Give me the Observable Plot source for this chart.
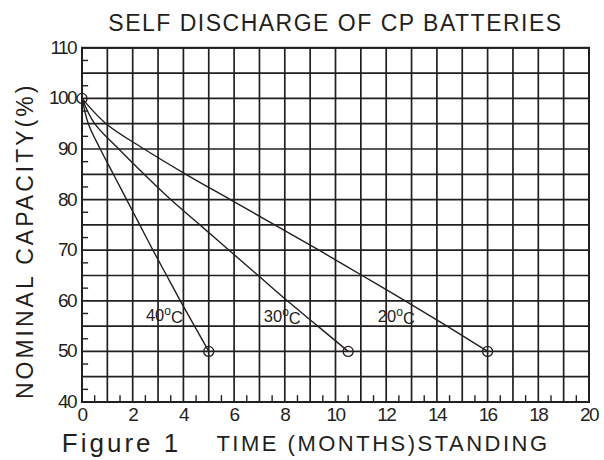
<!DOCTYPE html>
<html><head><meta charset="utf-8">
<script src="https://cdn.jsdelivr.net/npm/d3@7"></script>
<script src="https://cdn.jsdelivr.net/npm/@observablehq/plot@0.6"></script>
<style>
body{margin:0;background:#fff;}
svg{display:block;}
</style>
</head><body>
<div id="chart"></div>
<script>
// Data
const capacity = [100, 95, 90, 85, 80, 75, 70, 65, 60, 55, 50];
const months40 = [0, 0.25, 0.72, 1.24, 1.76, 2.28, 2.8, 3.34, 3.88, 4.44, 5.0];
const months30 = [0, 0.5, 1.45, 2.45, 3.5, 4.65, 5.8, 6.95, 8.1, 9.3, 10.5];
const months20 = [0, 0.95, 2.45, 4.1, 5.85, 7.6, 9.35, 11.05, 12.75, 14.4, 16.0];
const seriesNames = ["40°C", "30°C", "20°C"];
const labelMonths = [3.25, 7.9, 12.4];
const labelCapacity = [57.1, 56.9, 56.9];
const xTicks = [0, 2, 4, 6, 8, 10, 12, 14, 16, 18, 20];
const yTicks = [40, 50, 60, 70, 80, 90, 100, 110];
const title = "SELF DISCHARGE OF CP BATTERIES";
const xTitle = "TIME (MONTHS)STANDING";
const yTitle = "NOMINAL CAPACITY(%)";
const figLabel = "Figure 1";

const seriesMonths = [months40, months30, months20];
const rows = seriesNames.flatMap((s, i) => capacity.map((c, j) => ({series: s, month: seriesMonths[i][j], cap: c})));
const endpoints = [{month: 0, cap: 100}, ...seriesNames.map((s, i) => ({month: seriesMonths[i][seriesMonths[i].length - 1], cap: capacity[capacity.length - 1]}))];
const labels = seriesNames.map((s, i) => ({text: s, month: labelMonths[i], cap: labelCapacity[i]}));

const gridX = d3.range(0, 21, 1);
const gridY = d3.range(40, 111, 5);
const minorX = d3.range(0.5, 20, 1);
const minorY = d3.range(42.5, 110, 5);

const ink = "#231f20";
const narrow = "'Liberation Sans Narrow', 'Liberation Sans', Arial, sans-serif";
const sans = "'Liberation Sans', Arial, sans-serif";

const chart = Plot.plot({
  width: 604,
  height: 460,
  marginLeft: 81.5,
  marginRight: 15.5,
  marginTop: 47.3,
  marginBottom: 58.5,
  style: {background: "#fff", color: ink},
  x: {domain: [0, 20]},
  y: {domain: [40, 110]},
  marks: [
    Plot.ruleX(gridX, {stroke: ink, strokeWidth: 1.7}),
    Plot.ruleY(gridY, {stroke: ink, strokeWidth: 1.7}),
    Plot.ruleX(minorX, {y1: 40, y2: 41.25, stroke: ink, strokeWidth: 1.4}),
    Plot.ruleY(minorY, {x1: 0, x2: 0.26, stroke: ink, strokeWidth: 1.4}),
    Plot.frame({stroke: ink, strokeWidth: 2}),
    Plot.line(rows, {x: "month", y: "cap", z: "series", stroke: ink, strokeWidth: 1.4, curve: "catmull-rom"}),
    Plot.dot(endpoints, {x: "month", y: "cap", r: 5, stroke: ink, strokeWidth: 1.3, fill: "none"}),
    Plot.text(labels, {x: "month", y: "cap", text: "text", fontSize: 16.5, fontFamily: narrow, fill: ink, className: "templabel"}),
    Plot.axisX(xTicks, {tickSize: 0, tickPadding: 5, fontSize: 19, fontFamily: narrow, fill: ink, label: null, className: "ticklab"}),
    Plot.axisY(yTicks, {tickSize: 0, tickPadding: 6, fontSize: 19, fontFamily: narrow, fill: ink, label: null, className: "ticklab"}),
    Plot.text([title], {frameAnchor: "top", dy: -24, fontSize: 23, fontFamily: sans, fill: ink, lineAnchor: "middle", textAnchor: "middle", className: "spacedT"}),
    Plot.text([yTitle], {frameAnchor: "left", dx: -56.5, dy: 16, rotate: -90, fontSize: 23, fontFamily: sans, fill: ink, lineAnchor: "middle", textAnchor: "middle", className: "spacedY"}),
    Plot.text([figLabel], {frameAnchor: "bottom-left", dx: 39.5, dy: 42, fontSize: 26, fontFamily: sans, fill: ink, lineAnchor: "middle", textAnchor: "middle", className: "spacedF"}),
    Plot.text([xTitle], {frameAnchor: "bottom-left", dx: 301, dy: 42, fontSize: 22, fontFamily: sans, fill: ink, lineAnchor: "middle", textAnchor: "middle", className: "spacedX"})
  ]
});

const svg = d3.select(chart);
svg.selectAll(".spacedT text").attr("letter-spacing", "1.5");
svg.selectAll(".spacedY text").attr("letter-spacing", "3");
svg.selectAll(".spacedF text").attr("letter-spacing", "3");
svg.selectAll(".spacedX text").attr("letter-spacing", "2.5");
svg.selectAll(".ticklab text").attr("letter-spacing", "-1.6");

// Degree mark as superscript "o", like the original
svg.selectAll(".templabel text").each(function () {
  const t = d3.select(this);
  const s = t.text();
  const m = s.match(/^(\d+)°C$/);
  if (!m) return;
  t.text(null);
  t.append("tspan").text(m[1]);
  t.append("tspan").attr("font-size", "12").attr("dy", "-0.5em").text("o");
  t.append("tspan").attr("dy", "0.5em").text("C");
});

document.getElementById("chart").append(chart);
</script>
</body></html>
